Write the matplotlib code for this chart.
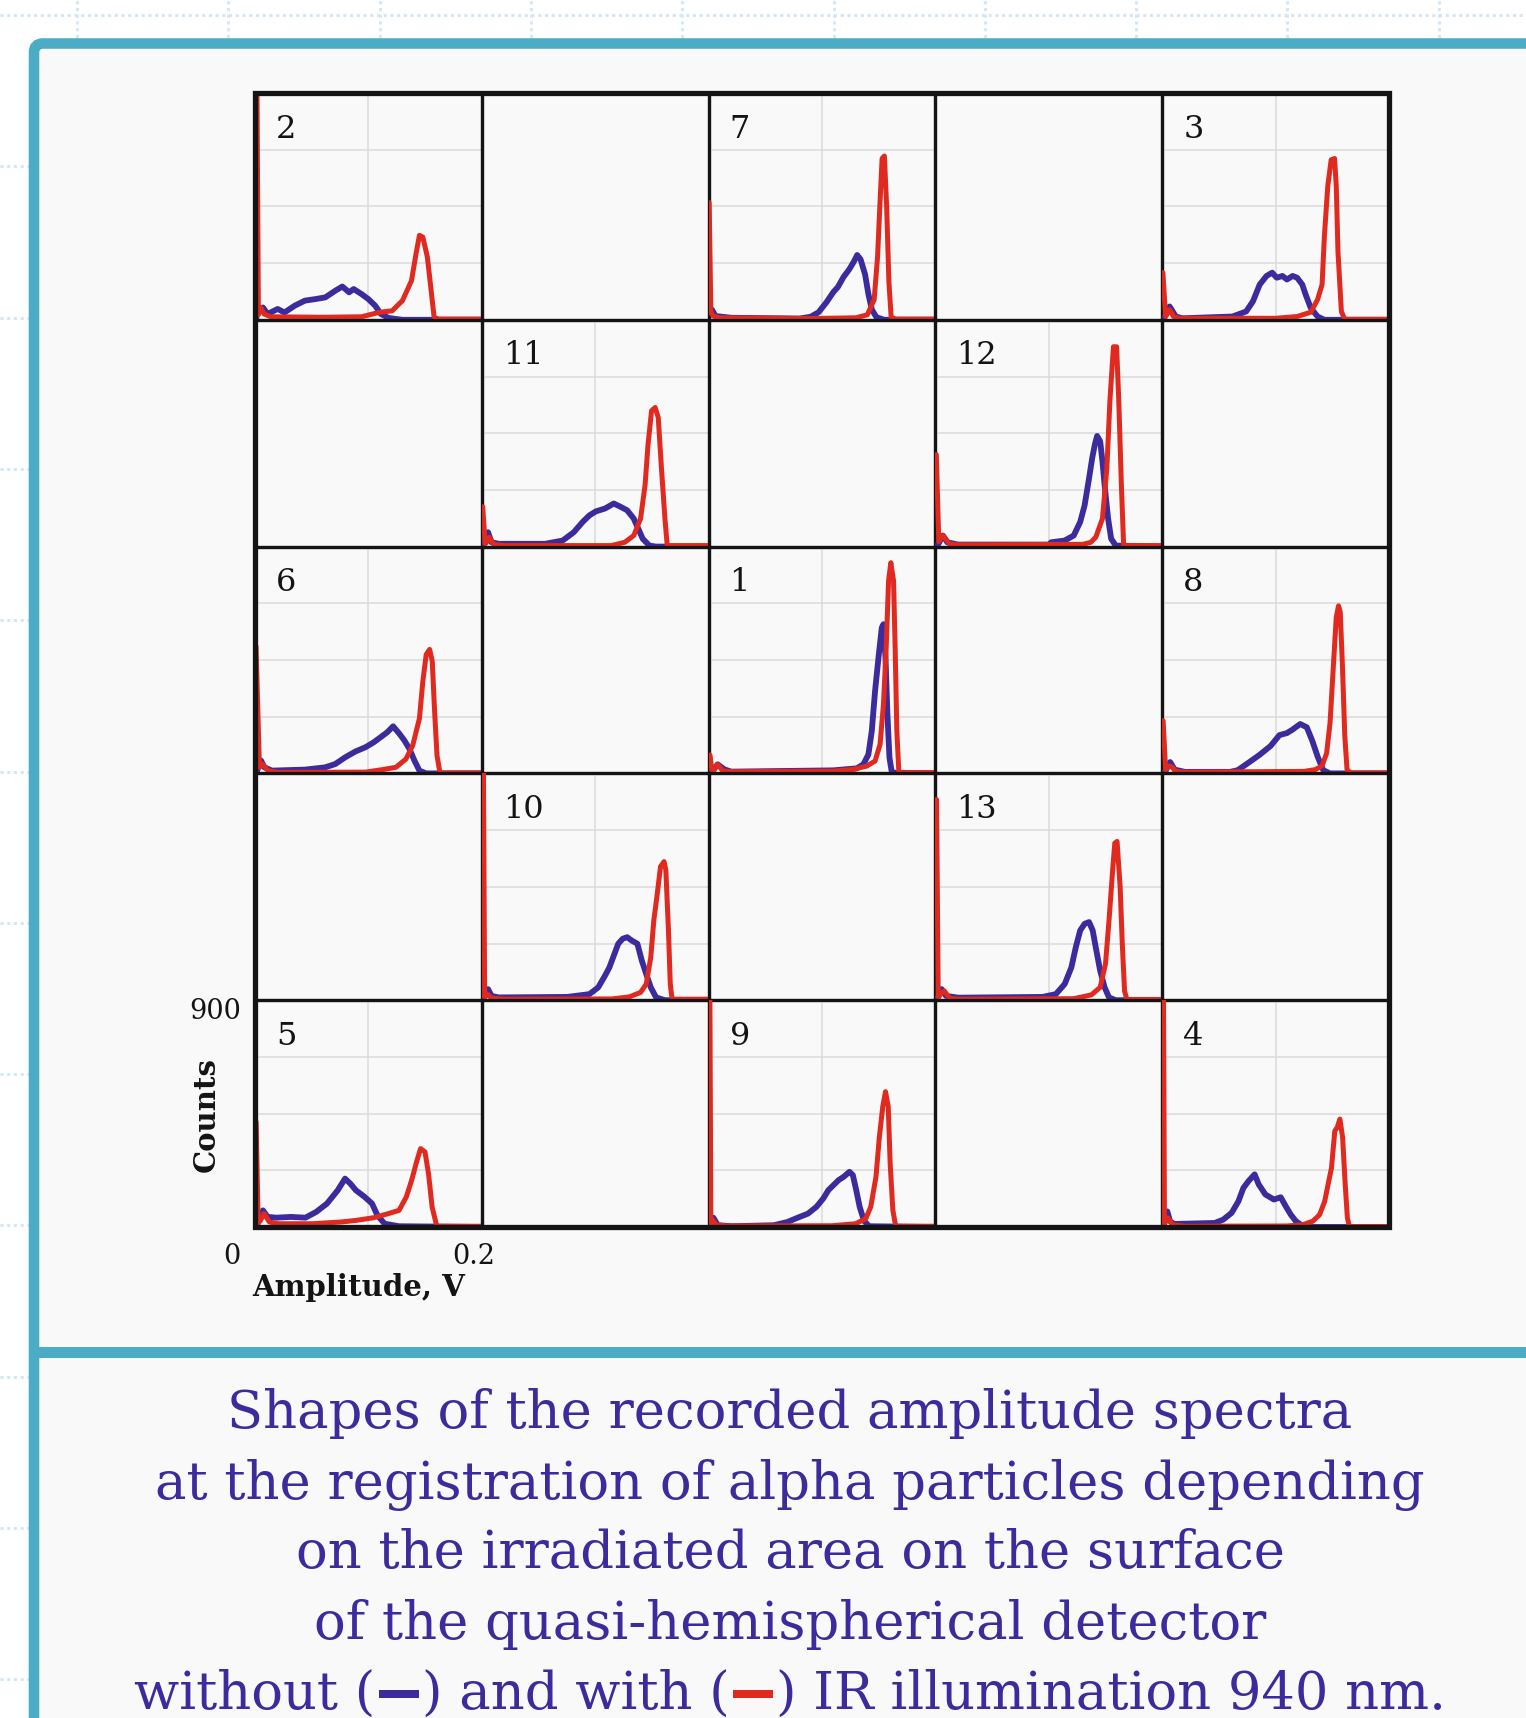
import matplotlib.pyplot as plt
from matplotlib.lines import Line2D
from matplotlib.patches import FancyBboxPatch, Rectangle
from matplotlib.transforms import IdentityTransform

W, H = 1526, 1718
BLUE = '#3b2b9d'
RED = '#e0291f'
FRAME = '#4bacc6'
INK = '#141414'

# spectra: (amplitude in mV, counts)
p1_blue = [(1, 0), (3.5, 9), (8, 36), (13.9, 16), (20, 7), (110, 12), (130.6, 20), (136.5, 36),
           (140.9, 75), (143.9, 168), (146.8, 327), (149.8, 459), (152.7, 578), (154.2, 592),
           (156, 459), (157.7, 234), (159.5, 62), (161.6, 3), (200, 0)]
p1_red = [(1.2, 73), (3, 10), (5, 16), (8, 36), (12.4, 10), (20, 7), (110, 9), (127.6, 16),
          (139.4, 29), (146.8, 49), (151.2, 115), (154.2, 274), (156.6, 499), (158.7, 764),
          (160.7, 836), (163.1, 764), (164.5, 499), (166, 168), (167.8, 3), (200, 3)]

p2_blue = [(1, 0), (2, 36), (7, 49), (11, 23), (20, 43), (26, 29), (35, 56), (44, 76), (53, 82),
           (62, 89), (71, 116), (77, 132), (83, 109), (87, 122), (94, 102), (100, 82), (106, 56),
           (111, 23), (118, 7), (130, 0), (200, 0)]
p2_red = [(0.9, 1500), (3, 20), (5, 49), (8, 23), (14, 12), (60, 10), (94, 12), (109, 29), (121, 36),
          (130, 76), (138, 155), (142, 262), (145, 335), (148, 328), (152, 249), (155, 129),
          (158, 9), (162, 3), (200, 3)]

p3_blue = [(1, 0), (6.5, 53), (12, 13), (18, 6), (62, 13), (74, 33), (80, 73), (86, 140), (92, 174),
           (97, 187), (101, 167), (106, 174), (110, 160), (115, 174), (119, 167), (123.5, 140),
           (126.5, 100), (131, 47), (137, 13), (143, 0), (200, 0)]
p3_red = [(0.6, 187), (3, 13), (6.5, 40), (10, 13), (15, 6), (100, 6), (119, 13), (131, 30),
          (137, 80), (141, 140), (143, 330), (146, 530), (149, 635), (152, 640), (153.5, 530),
          (155, 270), (158, 33), (161, 2), (200, 2)]

p4_blue = [(1, 0), (1.5, 9), (4.5, 62), (6.9, 23), (10.4, 12), (46.3, 16), (53.7, 29), (61.2, 56),
           (67.2, 102), (71.6, 155), (76.1, 182), (81.5, 209), (85.1, 169), (91, 129), (98.5, 109),
           (104.5, 118), (109, 82), (113.4, 49), (117.9, 23), (122.4, 9), (129.8, 0), (200, 0)]
p4_red = [(0.6, 1500), (2, 10), (3, 23), (5.1, 36), (9, 9), (20, 3), (110, 4), (123.9, 9),
          (132.8, 23), (138.8, 49), (143.3, 102), (146.3, 169), (149.3, 235), (152.2, 381),
          (154.3, 395), (156.7, 428), (159.1, 355), (161.2, 182), (163.3, 36), (165.1, 2), (200, 2)]

p5_blue = [(1, 0), (3, 20), (7, 66), (11.1, 40), (19, 37), (31.8, 40), (44.5, 37), (54, 60),
           (63.5, 93), (73, 146), (79.4, 192), (84.1, 172), (88.9, 146), (96.8, 119), (103.2, 93),
           (108, 46), (114.3, 13), (127, 3), (200, 0)]
p5_red = [(1, 417), (2.8, 15), (4.8, 26), (7.9, 53), (12.7, 20), (20, 13), (50.8, 13), (76.2, 20),
          (88.9, 26), (104.8, 37), (117.5, 53), (127, 66), (133.4, 119), (138.1, 185), (142.9, 265),
          (146, 311), (149.9, 298), (153, 212), (156.2, 79), (160.3, 3), (200, 3)]

p6_blue = [(1, 0), (2.4, 17), (5.3, 51), (8.3, 24), (15, 11), (44, 15), (61.8, 24), (70.7, 37),
           (79.6, 64), (88.6, 87), (97.5, 104), (104.9, 124), (110.9, 144), (116.8, 164),
           (121.8, 187), (127.2, 158), (131.7, 131), (136.1, 98), (140.6, 51), (145, 11),
           (151, 0), (200, 0)]
p6_red = [(0.9, 505), (3.9, 24), (6.8, 37), (11.3, 11), (20, 4), (97.5, 5), (112.3, 15), (124.2, 24),
          (133.1, 57), (139.1, 111), (145, 218), (148, 365), (151, 472), (154, 492), (156.3, 445),
          (158.4, 245), (160.5, 71), (163.1, 2), (200, 2)]

p7_blue = [(1, 30), (3, 40), (6, 15), (20, 8), (80, 5), (90, 12), (97, 30), (104, 70), (110, 110),
           (114, 130), (119, 170), (124, 200), (128, 230), (131, 257), (134, 240), (138, 180),
           (141, 100), (144, 40), (148, 10), (155, 0), (200, 0)]
p7_red = [(0.5, 465), (2, 30), (4, 15), (10, 8), (90, 5), (130, 8), (140, 20), (146, 80), (149, 250),
          (151, 450), (153, 640), (155, 650), (157, 450), (159, 150), (161, 10), (165, 3), (200, 3)]

p8_blue = [(1, 0), (3, 10), (7, 45), (11, 15), (20, 6), (60, 6), (66.7, 13), (76.3, 43), (86, 74),
           (95.6, 109), (103.4, 152), (110, 160), (115, 174), (121.7, 196), (127.5, 183),
           (132.3, 130), (137.2, 65), (142, 13), (148, 0), (200, 0)]
p8_red = [(0.8, 209), (3, 15), (6, 30), (8.7, 25), (12, 8), (20, 5), (125, 8), (135, 15), (141, 30),
          (145, 80), (148, 200), (151, 430), (153.5, 620), (155.5, 665), (157, 640), (159, 420),
          (161, 150), (163, 15), (166, 2), (200, 2)]

p9_blue = [(1, 0), (2.1, 13), (4.2, 37), (8.1, 7), (20, 3), (57.6, 7), (69.6, 20), (78.6, 37),
           (87.6, 53), (95.1, 80), (101.1, 113), (105.6, 146), (110.1, 166), (114.6, 186),
           (119.1, 199), (124.2, 219), (127.2, 206), (130.2, 146), (133.2, 80), (137.1, 24),
           (141.6, 3), (200, 0)]
p9_red = [(0.6, 1500), (2, 10), (3.6, 27), (6.6, 10), (15, 4), (108.6, 5), (129.6, 13), (138.6, 33),
          (143, 80), (147.6, 199), (150.6, 358), (153.6, 478), (156, 537), (158.4, 478),
          (160.1, 252), (162.5, 66), (165, 3), (200, 3)]

p10_blue = [(1, 0), (2.7, 17), (5.5, 44), (8.6, 17), (15, 11), (75.3, 13), (94.9, 24), (102.7, 51),
            (108.6, 97), (112.5, 130), (116.4, 177), (120.3, 224), (124.3, 244), (128.2, 250),
            (132.1, 237), (137.2, 224), (141.1, 157), (145, 104), (149, 51), (153.7, 11),
            (161.5, 0), (200, 0)]
p10_red = [(0.8, 1500), (2.5, 10), (4.7, 24), (8.6, 8), (20, 4), (114.5, 5), (130, 13), (140, 31),
           (145, 64), (149, 170), (151.7, 317), (154.4, 410), (157.6, 530), (160.7, 550),
           (162.3, 516), (164.6, 277), (166.2, 64), (167.8, 4), (200, 4)]

p11_blue = [(1, 0), (2.7, 31), (5.5, 57), (8.6, 17), (15, 11), (55.7, 11), (71.3, 24), (81.1, 57),
            (89, 98), (94.9, 124), (100.7, 140), (108.6, 151), (116.4, 171), (122.3, 158),
            (128.2, 144), (134, 111), (138, 71), (141.9, 31), (147.8, 4), (153.7, 0), (200, 0)]
p11_red = [(0.8, 158), (3, 10), (4.7, 20), (6.7, 37), (10.6, 8), (20, 4), (114, 4), (126, 17),
           (134, 44), (140, 111), (144, 245), (146.6, 405), (149.7, 539), (152.9, 552),
           (155.6, 512), (158.4, 312), (161.5, 111), (163.5, 4), (200, 4)]

p12_blue = [(1, 0), (2.7, 11), (6.6, 44), (10.5, 17), (20, 8), (100, 8), (102, 17), (114, 24),
            (122, 44), (127.7, 98), (131.6, 164), (135.5, 271), (138.3, 352), (140.6, 405),
            (142.6, 439), (145.3, 418), (147.3, 338), (149.2, 245), (152.3, 111), (155, 31),
            (159, 4), (200, 0)]
p12_red = [(0.8, 365), (3, 20), (6.6, 44), (12.5, 11), (20, 7), (130, 9), (137, 17), (141.4, 37),
           (147.3, 111), (151.2, 312), (153.9, 579), (157, 793), (159.8, 793), (161.7, 579),
           (164, 245), (166, 4), (200, 4)]

p13_blue = [(1, 0), (2.7, 17), (5.5, 44), (9.4, 17), (20, 10), (94.5, 13), (106.2, 24), (114, 64),
            (119.9, 130), (123.8, 210), (127.7, 277), (131.6, 303), (135.5, 310), (138.7, 277),
            (141.4, 210), (145.3, 117), (149.2, 51), (153.1, 11), (159, 0), (200, 0)]
p13_red = [(1, 796), (2.5, 10), (4.7, 24), (7.8, 37), (12.5, 8), (20, 4), (121.9, 6), (137.5, 21),
           (145.3, 51), (150, 144), (153.1, 317), (156.3, 516), (158.2, 623), (160.2, 630),
           (162.9, 450), (164.8, 224), (166.8, 37), (168.8, 3), (200, 3)]

# which irradiated area sits in which cell (None = empty cell)
layout = [[2, None, 7, None, 3],
          [None, 11, None, 12, None],
          [6, None, 1, None, 8],
          [None, 10, None, 13, None],
          [5, None, 9, None, 4]]

spectra = {1: (p1_blue, p1_red), 2: (p2_blue, p2_red), 3: (p3_blue, p3_red), 4: (p4_blue, p4_red),
           5: (p5_blue, p5_red), 6: (p6_blue, p6_red), 7: (p7_blue, p7_red), 8: (p8_blue, p8_red),
           9: (p9_blue, p9_red), 10: (p10_blue, p10_red), 11: (p11_blue, p11_red),
           12: (p12_blue, p12_red), 13: (p13_blue, p13_red)}

caption = ['Shapes of the recorded amplitude spectra',
           'at the registration of alpha particles depending',
           'on the irradiated area on the surface',
           'of the quasi-hemispherical detector']
last_line = ['without (', ') and with (', ') IR illumination 940 nm.']

plt.rcParams['font.family'] = ['DejaVu Serif', 'DejaVu Sans']

fig = plt.figure(figsize=(W / 100, H / 100), dpi=100, facecolor='white')
px = IdentityTransform()


def fx(x):
    return x / W


def fy(y):
    return 1 - y / H


# dotted page grid behind the box
for k in range(11):
    x = 77 + 151.3 * k
    fig.add_artist(Line2D([x, x], [0, H], transform=px, color='#d2e8f7', lw=2.2,
                          linestyle=(0, (1, 1.2)), zorder=-5))
for k in range(12):
    y = H - (15 + 151.3 * k)
    fig.add_artist(Line2D([0, W], [y, y], transform=px, color='#d2e8f7', lw=2.2,
                          linestyle=(0, (1, 1.2)), zorder=-5))

# framed box and divider
fig.add_artist(FancyBboxPatch((34, -100), 1700, H - 43.5 + 100, boxstyle='round,pad=0,rounding_size=9',
                              transform=px, fc='#f9f9f9', ec=FRAME, lw=7.6, zorder=-2))
fig.add_artist(Line2D([34, W], [H - 1351.5, H - 1351.5], transform=px, color=FRAME, lw=7.9, zorder=-1))

# 5x5 grid of spectra
gx, gy, size = 255, 93, 226.8
for r, row in enumerate(layout):
    for c, num in enumerate(row):
        left, top = gx + c * size, gy + r * size
        ax = fig.add_axes([fx(left), fy(top + size), size / W, size / H])
        ax.set_facecolor('none')
        ax.set_xlim(0, 0.2)
        ax.set_ylim(0, 900)
        ax.tick_params(length=0, labelbottom=False, labelleft=False)
        for s in ax.spines.values():
            s.set_linewidth(2.3)
            s.set_color(INK)
        if num is None:
            ax.set_xticks([])
            ax.set_yticks([])
            continue
        ax.set_xticks([0.1])
        ax.set_yticks([225, 450, 675])
        ax.grid(color='#dadada', lw=1.1)
        ax.set_axisbelow(True)
        blue, red = spectra[num]
        ax.plot([p[0] / 1000 for p in blue], [p[1] for p in blue], color=BLUE, lw=4.2,
                solid_joinstyle='round', solid_capstyle='round', zorder=3)
        ax.plot([p[0] / 1000 for p in red], [p[1] for p in red], color=RED, lw=3.6,
                solid_joinstyle='round', solid_capstyle='round', zorder=4)
        fig.text(fx(left + 21), fy(top + 36), str(num), fontsize=23, color=INK, ha='left', va='center')

fig.add_artist(Rectangle((gx, H - gy - 5 * size), 5 * size, 5 * size, transform=px, fill=False,
                         ec=INK, lw=3.8, zorder=5))

# axis annotations of the bottom-left cell
fig.text(fx(241), fy(1012), '900', fontsize=19.5, color=INK, ha='right', va='center')
fig.text(fx(232), fy(1257), '0', fontsize=19.5, color=INK, ha='center', va='center')
fig.text(fx(474), fy(1257), '0.2', fontsize=19.5, color=INK, ha='center', va='center')
fig.text(fx(252), fy(1296), 'Amplitude, V', fontsize=21, fontweight='bold', color=INK,
         ha='left', va='baseline')
fig.text(fx(206), fy(1115), 'Counts', fontsize=21, fontweight='bold', color=INK, rotation=90,
         ha='center', va='center')

# caption
cap_fs = 38
baselines = [1428, 1499, 1568, 1639, 1709]
for line, yb in zip(caption, baselines):
    fig.text(fx(790), fy(yb), line, fontsize=cap_fs, color=BLUE, ha='center', va='baseline')

renderer = fig.canvas.get_renderer()
parts = [fig.text(0, fy(baselines[4]), s, fontsize=cap_fs, color=BLUE, ha='left', va='baseline')
         for s in last_line]
widths = [t.get_window_extent(renderer).width for t in parts]
bar_w, gap = 40, 3
total = sum(widths) + 2 * (bar_w + 2 * gap)
x = 790 - total / 2
for i, t in enumerate(parts):
    t.set_x(fx(x))
    x += widths[i]
    if i < 2:
        fig.add_artist(Rectangle((x + gap, H - baselines[4] + 11), bar_w, 8, transform=px,
                                 color=[BLUE, RED][i], lw=0, zorder=5))
        x += bar_w + 2 * gap

fig.savefig('out.png', dpi=100, facecolor='white')
